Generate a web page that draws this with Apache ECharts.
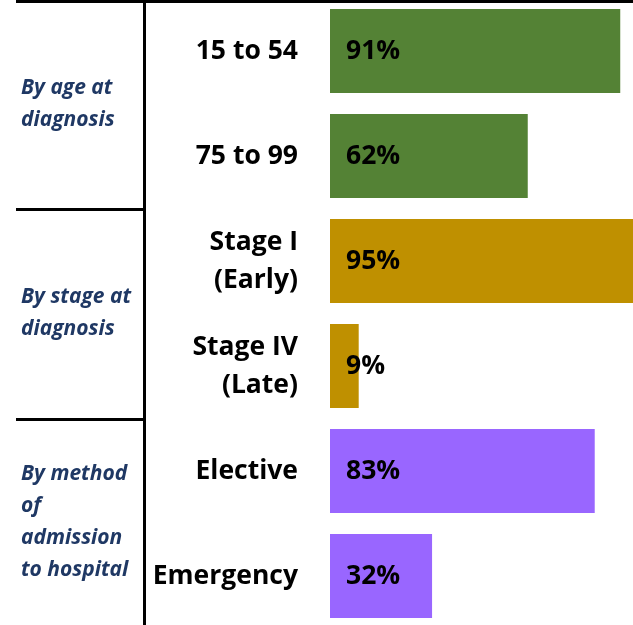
<!DOCTYPE html>
<html>
<head>
<meta charset="utf-8">
<script src="https://cdn.jsdelivr.net/npm/echarts@6/dist/echarts.min.js"></script>
<style>
  html, body { margin: 0; padding: 0; background: #fff; }
  #main { width: 633px; height: 625px; }
</style>
</head>
<body>
<div id="main"></div>
<script>
// data
var categories = ['15 to 54', '75 to 99', 'Stage I\n(Early)', 'Stage IV\n(Late)', 'Elective', 'Emergency'];
var values = [91, 62, 95, 9, 83, 32];
var barColors = ['#548235', '#548235', '#BF9000', '#BF9000', '#9966FF', '#9966FF'];
var groups = ['By age at\ndiagnosis', 'By stage at\ndiagnosis', 'By method\nof\nadmission\nto hospital'];
var groupSize = [2, 2, 2];

var FONT = '"Open Sans", "Noto Sans", sans-serif';

var chart = echarts.init(document.getElementById('main'));

var option = {
  animation: false,
  grid: { left: 330, right: 0, top: -1.5, bottom: -3.5, outerBoundsMode: 'none' },
  xAxis: {
    type: 'value', min: 0, max: 95, show: false
  },
  yAxis: {
    type: 'category',
    inverse: true,
    data: categories,
    axisLine: { show: false },
    axisTick: { show: false },
    axisLabel: {
      margin: 32,
      align: 'right',
      color: '#000',
      fontFamily: FONT,
      fontWeight: 'bold',
      fontSize: 26.5,
      lineHeight: 38
    }
  },
  series: [{
    type: 'bar',
    barCategoryGap: '20%',
    data: values.map(function (v, i) {
      return { value: v, itemStyle: { color: barColors[i] } };
    }),
    label: {
      show: true,
      position: 'insideLeft',
      distance: 16,
      formatter: '{c}%',
      color: '#000',
      fontFamily: FONT,
      fontWeight: 'bold',
      fontSize: 26.5
    }
  }]
};
chart.setOption(option);

// separators and group labels, placed from the category scale
function bandEdge(idx) {
  var a = chart.convertToPixel({ yAxisIndex: 0 }, categories[idx]);
  var step = chart.convertToPixel({ yAxisIndex: 0 }, categories[1]) - chart.convertToPixel({ yAxisIndex: 0 }, categories[0]);
  return a - step / 2;
}
var graphics = [
  { type: 'line', shape: { x1: 16, y1: 1.5, x2: 633, y2: 1.5 }, style: { stroke: '#000', lineWidth: 3 } },
  { type: 'line', shape: { x1: 144.5, y1: 0, x2: 144.5, y2: 625 }, style: { stroke: '#000', lineWidth: 3 } }
];
var start = 0;
groups.forEach(function (g, gi) {
  var end = start + groupSize[gi];
  var top = gi === 0 ? 0 : bandEdge(start);
  var bottom = end < categories.length ? bandEdge(end) : 625;
  if (end < categories.length) {
    graphics.push({ type: 'line', shape: { x1: 16, y1: bottom + 1, x2: 146, y2: bottom + 1 }, style: { stroke: '#000', lineWidth: 3 } });
  }
  graphics.push({
    type: 'text',
    x: 21,
    y: (top + bottom) / 2,
    style: {
      text: g,
      fill: '#1F3864',
      font: 'italic bold 21px ' + FONT,
      lineHeight: 32,
      verticalAlign: 'middle',
      align: 'left'
    }
  });
  start = end;
});
chart.setOption({ graphic: graphics });
</script>
</body>
</html>
